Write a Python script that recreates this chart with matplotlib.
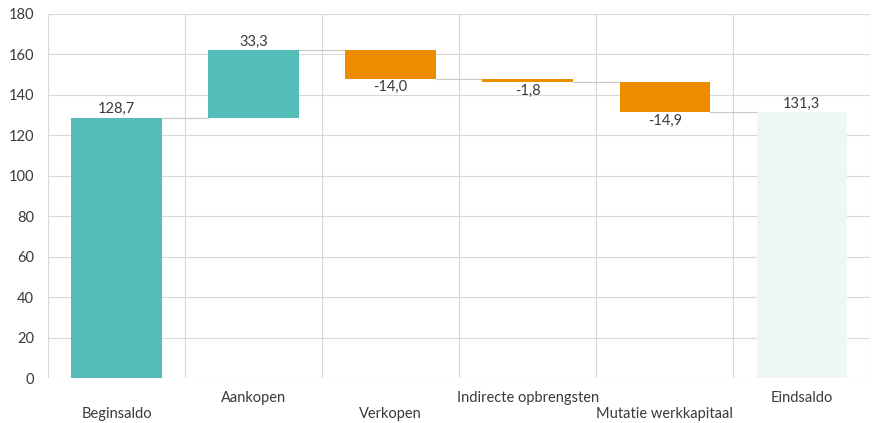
import numpy as np
import matplotlib
matplotlib.use('AGG')
import matplotlib.pyplot as plt

plt.rcParams['font.family'] = ['Lato', 'DejaVu Sans']

categories = ['Beginsaldo', 'Aankopen', 'Verkopen', 'Indirecte opbrengsten',
              'Mutatie werkkapitaal', 'Eindsaldo']
start_value = 128.7
changes = [33.3, -14.0, -1.8, -14.9]
end_value = 131.3
labels = ['128,7', '33,3', '-14,0', '-1,8', '-14,9', '131,3']

teal = '#55bdb8'
orange = '#ee8c00'
light = '#eef6f6'
grid_c = '#d9d9d9'
text_c = '#3a3a3a'

fig = plt.figure(figsize=(8.73, 4.23), dpi=100)
ax = fig.add_axes([0.055, 0.106, 0.942, 0.861])

x = np.arange(len(categories))
w = 0.66

# bottoms / heights
bottoms = [0]
heights = [start_value]
colors = [teal]
level = start_value
for c in changes:
    if c >= 0:
        bottoms.append(level)
        heights.append(c)
        colors.append(teal)
    else:
        bottoms.append(level + c)
        heights.append(-c)
        colors.append(orange)
    level += c
bottoms.append(0)
heights.append(end_value)
colors.append(light)

ax.bar(x, heights, bottom=bottoms, width=w, color=colors, zorder=3)

# connectors
levels = [start_value]
lv = start_value
for c in changes:
    lv += c
    levels.append(lv)
for i, lv in enumerate(levels):
    ax.plot([x[i] + w / 2, x[i + 1] - w / 2], [lv, lv], color='#c8c8c8',
            linewidth=0.8, zorder=2)

# value labels
for i in range(len(categories)):
    top = bottoms[i] + heights[i]
    if i in (0, len(categories) - 1) or changes[i - 1] >= 0:
        ax.text(x[i], top + 0.8, labels[i], ha='center', va='bottom',
                fontsize=10.5, color=text_c)
    else:
        ax.text(x[i], bottoms[i] - 0.8, labels[i], ha='center', va='top',
                fontsize=10.5, color=text_c)

ax.set_xlim(-0.5, len(categories) - 0.5)
ax.set_ylim(0, 180)
ax.set_yticks(np.arange(0, 181, 20))
ax.tick_params(axis='y', length=0, labelsize=10.5, labelcolor=text_c, pad=10)
ax.set_xticks([])
ax.set_axisbelow(True)
ax.yaxis.grid(True, color=grid_c, linewidth=0.8)
for b in np.arange(-0.5, len(categories), 1):
    ax.axvline(b, color=grid_c, linewidth=0.8, zorder=1)
for s in ax.spines.values():
    s.set_visible(False)

# staggered category labels
for i, cat in enumerate(categories):
    off = -14.5 if i % 2 == 1 else -26
    ax.annotate(cat, (x[i], 0), xycoords=('data', 'axes fraction'),
                xytext=(0, off), textcoords='offset points',
                ha='center', va='center', fontsize=10.5, color=text_c)

fig.savefig('out.png', dpi=100)
